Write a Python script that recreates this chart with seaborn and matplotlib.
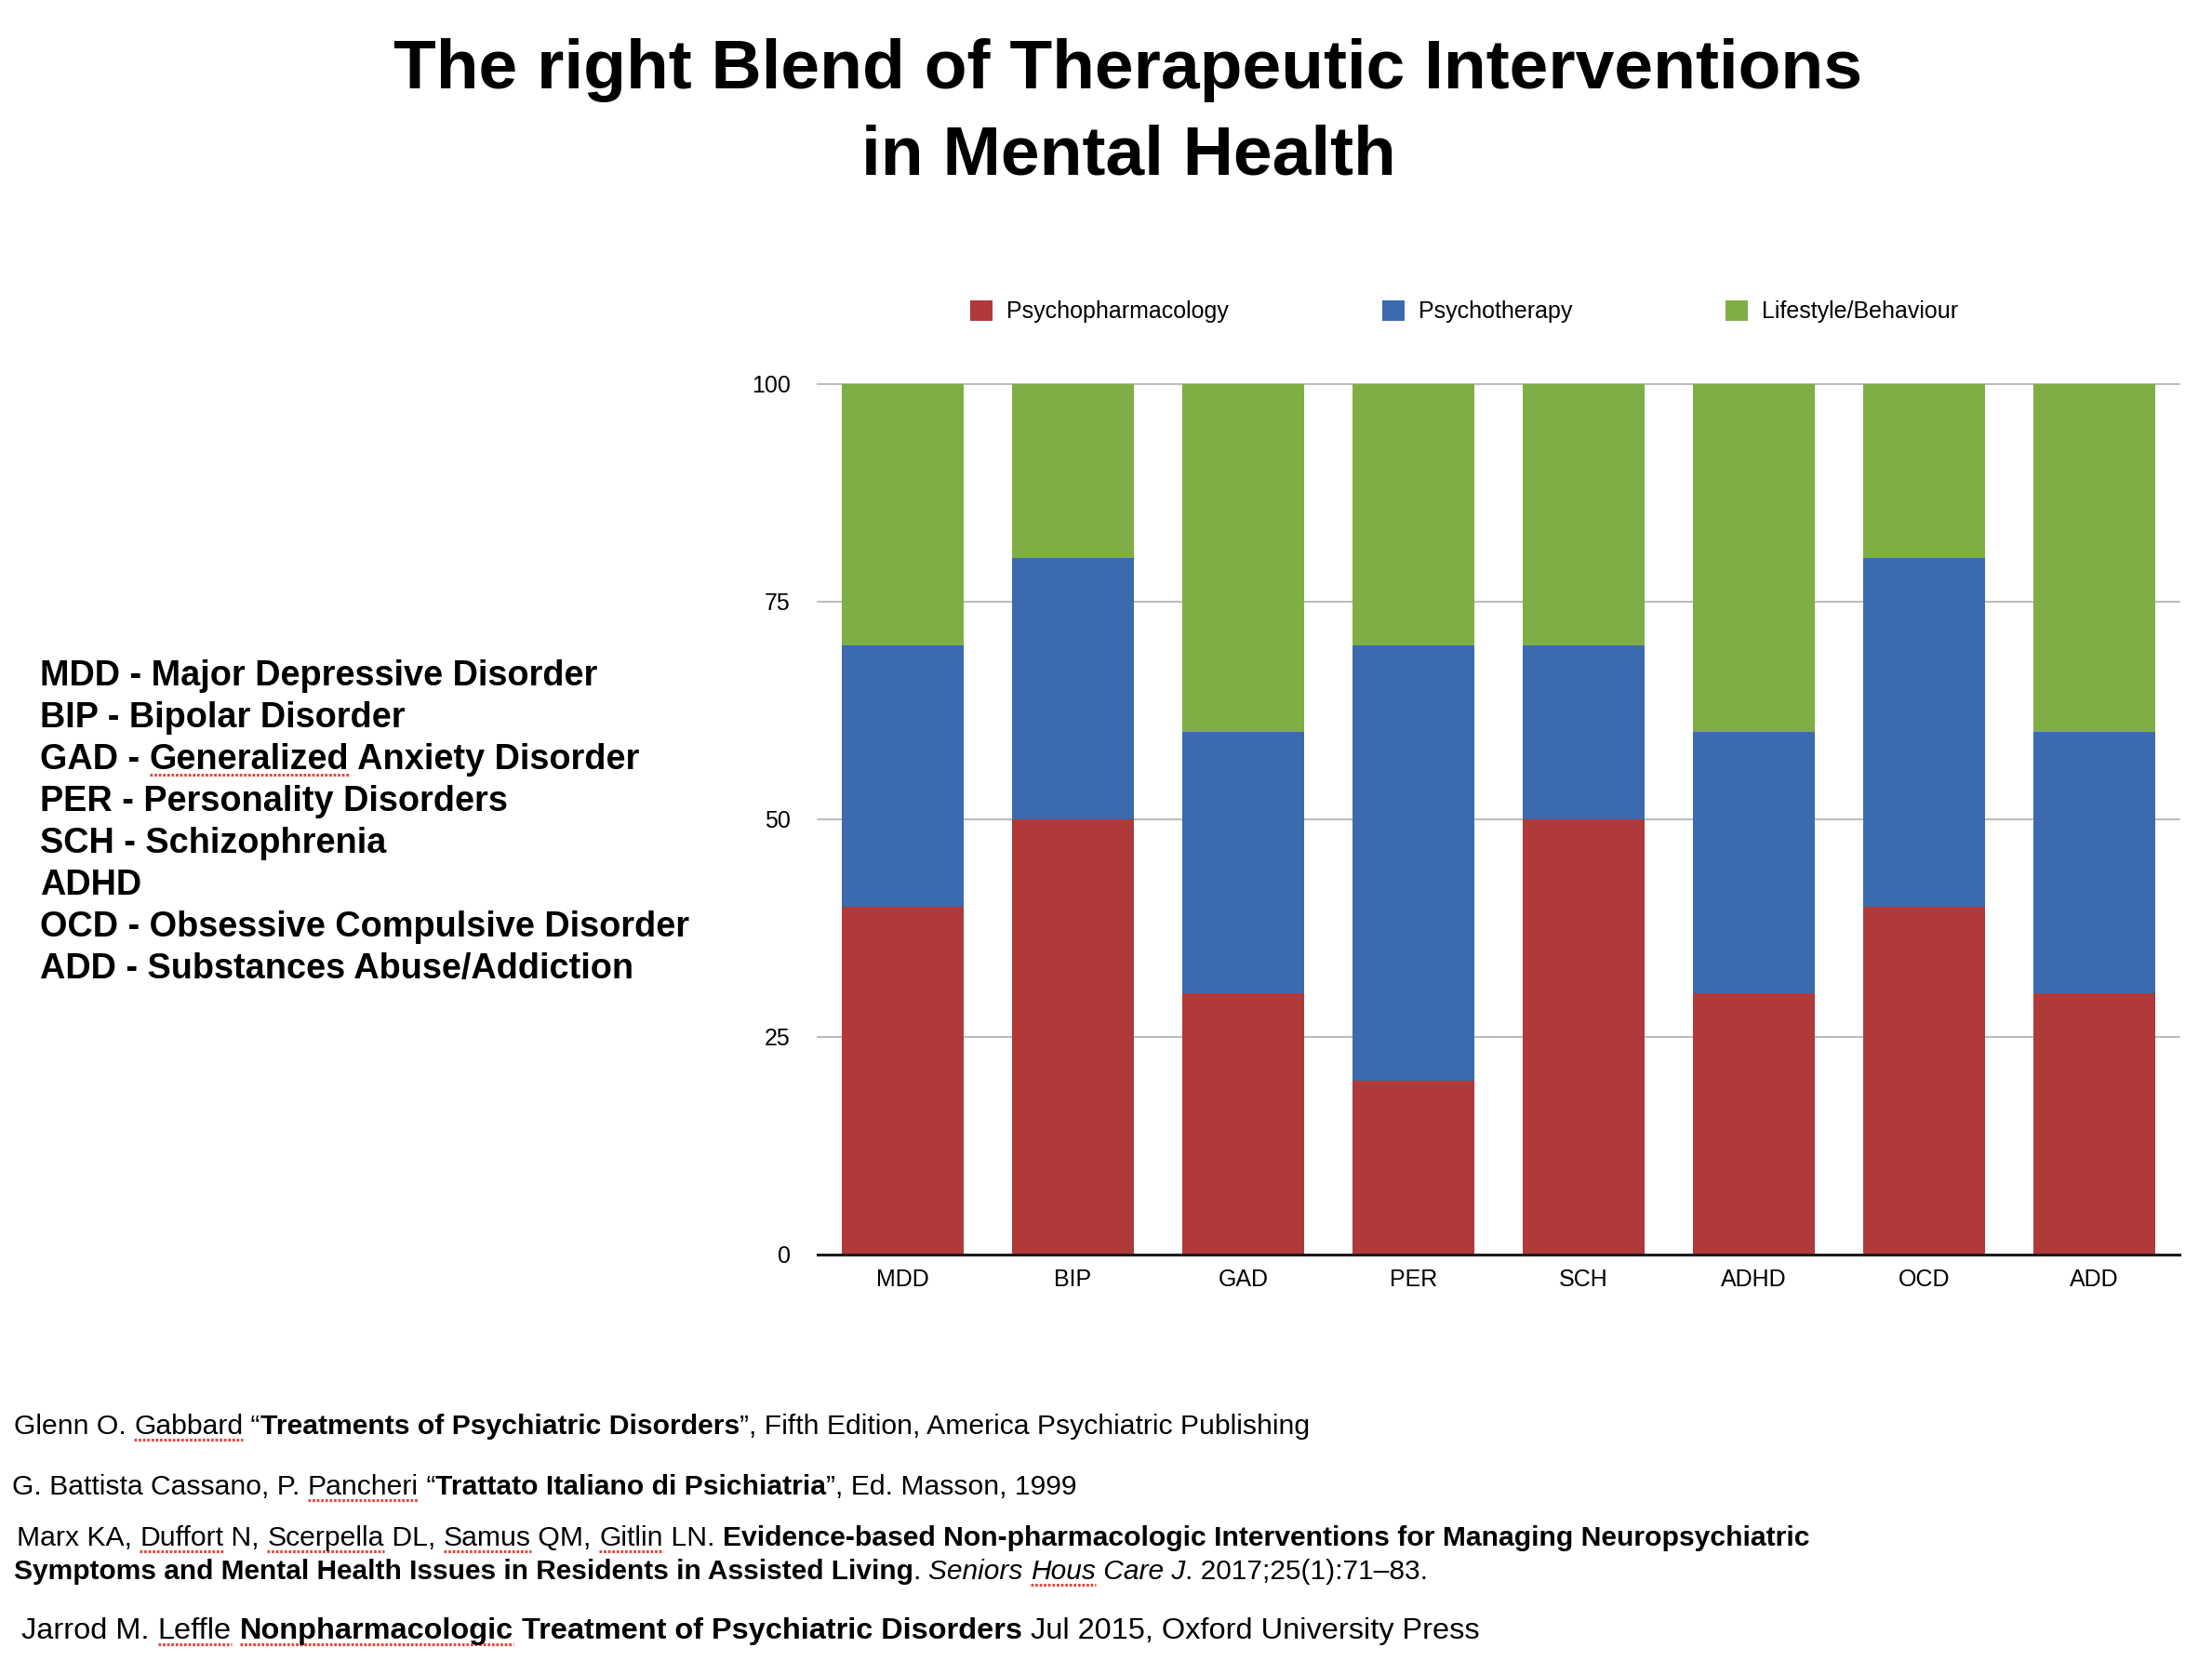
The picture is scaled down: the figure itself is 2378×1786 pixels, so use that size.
import matplotlib
matplotlib.use("Agg")
import matplotlib.pyplot as plt
from matplotlib.font_manager import FontProperties
from matplotlib.lines import Line2D
from matplotlib.patches import Patch
import pandas as pd
import seaborn as sns

# ------------------------------------------------------------
# data
# ------------------------------------------------------------
categories = ["MDD", "BIP", "GAD", "PER", "SCH", "ADHD", "OCD", "ADD"]
psychopharmacology = [40, 50, 30, 20, 50, 30, 40, 30]
psychotherapy = [30, 30, 30, 50, 20, 30, 40, 30]
lifestyle = [30, 20, 40, 30, 30, 40, 20, 40]
series_names = ["Psychopharmacology", "Psychotherapy", "Lifestyle/Behaviour"]
series_colors = ["#B03A3A", "#3B6AAE", "#7FAE46"]
y_ticks = [0, 25, 50, 75, 100]

title_lines = ["The right Blend of Therapeutic Interventions", "in Mental Health"]

# (text, weight, style, spell-check underline)
abbrev_lines = [
    [("MDD - Major Depressive Disorder", "bold", "normal", False)],
    [("BIP - Bipolar Disorder", "bold", "normal", False)],
    [("GAD - ", "bold", "normal", False), ("Generalized", "bold", "normal", True),
     (" Anxiety Disorder", "bold", "normal", False)],
    [("PER - Personality Disorders", "bold", "normal", False)],
    [("SCH - Schizophrenia", "bold", "normal", False)],
    [("ADHD", "bold", "normal", False)],
    [("OCD - Obsessive Compulsive Disorder", "bold", "normal", False)],
    [("ADD - Substances Abuse/Addiction", "bold", "normal", False)],
]

reference_lines = [
    [("Glenn O. ", "normal", "normal", False), ("Gabbard", "normal", "normal", True),
     (" \u201c", "normal", "normal", False),
     ("Treatments of Psychiatric Disorders", "bold", "normal", False),
     ("\u201d, Fifth Edition, America Psychiatric Publishing", "normal", "normal", False)],
    [("G. Battista Cassano, P. ", "normal", "normal", False), ("Pancheri", "normal", "normal", True),
     (" \u201c", "normal", "normal", False),
     ("Trattato Italiano di Psichiatria", "bold", "normal", False),
     ("\u201d, Ed. Masson, 1999", "normal", "normal", False)],
    [("Marx KA, ", "normal", "normal", False), ("Duffort", "normal", "normal", True),
     (" N, ", "normal", "normal", False), ("Scerpella", "normal", "normal", True),
     (" DL, ", "normal", "normal", False), ("Samus", "normal", "normal", True),
     (" QM, ", "normal", "normal", False), ("Gitlin", "normal", "normal", True),
     (" LN. ", "normal", "normal", False),
     ("Evidence-based Non-pharmacologic Interventions for Managing Neuropsychiatric",
      "bold", "normal", False)],
    [("Symptoms and Mental Health Issues in Residents in Assisted Living", "bold", "normal", False),
     (". ", "normal", "normal", False), ("Seniors ", "normal", "italic", False),
     ("Hous", "normal", "italic", True), (" Care J", "normal", "italic", False),
     (". 2017;25(1):71\u201383.", "normal", "normal", False)],
    [("Jarrod M. ", "normal", "normal", False), ("Leffle", "normal", "normal", True),
     (" ", "normal", "normal", False), ("Nonpharmacologic", "bold", "normal", True),
     (" Treatment of Psychiatric Disorders", "bold", "normal", False),
     (" Jul 2015, Oxford University Press", "normal", "normal", False)],
]

# ------------------------------------------------------------
# figure
# ------------------------------------------------------------
FONT = "Liberation Sans"
sns.set_style("white")
plt.rcParams["font.family"] = [FONT, "DejaVu Sans"]
plt.rcParams["text.color"] = "black"
plt.rcParams["xtick.color"] = "black"
plt.rcParams["ytick.color"] = "black"

W, H = 2378, 1786
fig = plt.figure(figsize=(W / 100, H / 100), dpi=100)


def fx(x):
    return x / W


def fy(y):
    return 1 - y / H


ax = fig.add_axes([fx(879), fy(1349), (2343 - 879) / W, (1349 - 413) / H])

df = pd.DataFrame({
    "category": categories,
    "red": psychopharmacology,
    "blue": psychotherapy,
    "green": lifestyle,
})
df["blue_top"] = df["red"] + df["blue"]
df["green_top"] = df["blue_top"] + df["green"]

# grid lines behind the bars
for t in y_ticks[1:]:
    ax.axhline(t, color="#BDBDBD", lw=1.5, zorder=0, clip_on=False)

# stacked bars: draw the tallest layer first
for col, color in zip(["green_top", "blue_top", "red"], series_colors[::-1]):
    sns.barplot(data=df, x="category", y=col, color=color, saturation=1,
                width=0.716, linewidth=0, edgecolor="none", ax=ax, zorder=2)

ax.set_xlim(-0.5, len(categories) - 0.5)
ax.set_ylim(0, 100)
ax.set_yticks(y_ticks)
ax.set_yticklabels([str(t) for t in y_ticks])
ax.set_xlabel("")
ax.set_ylabel("")
ax.tick_params(axis="both", length=0, labelsize=18, colors="black")
ax.tick_params(axis="y", pad=21)
ax.tick_params(axis="x", pad=11)
for s in ["left", "right", "top"]:
    ax.spines[s].set_visible(False)
ax.spines["bottom"].set_color("#1a1a1a")
ax.spines["bottom"].set_linewidth(2.2)
ax.spines["bottom"].set_zorder(3)
ax.grid(False)

handles = [Patch(facecolor=c, edgecolor="none", label=n)
           for n, c in zip(series_names, series_colors)]
fig.legend(handles=handles, loc="center left", ncol=3, frameon=False,
           bbox_to_anchor=(fx(1043), fy(335)), bbox_transform=fig.transFigure,
           fontsize=18, handlelength=0.96, handleheight=0.96,
           handletextpad=0.6, columnspacing=6.6, borderpad=0, borderaxespad=0,
           labelcolor="black")

# ------------------------------------------------------------
# texts
# ------------------------------------------------------------
fig.text(fx(1213), fy(95), title_lines[0], fontsize=54, fontweight="bold",
         ha="center", va="baseline", color="black")
fig.text(fx(1213), fy(187), title_lines[1], fontsize=54, fontweight="bold",
         ha="center", va="baseline", color="black")

renderer = fig.canvas.get_renderer()


def text_width(s, fp):
    w1 = renderer.get_text_width_height_descent(s + "|", fp, False)[0]
    w2 = renderer.get_text_width_height_descent("|", fp, False)[0]
    return w1 - w2


def draw_runs(x, y, runs, size):
    for txt, weight, style, marked in runs:
        fp = FontProperties(family=FONT, size=size, weight=weight, style=style)
        w = text_width(txt, fp)
        fig.text(fx(x), fy(y), txt, fontproperties=fp, ha="left", va="baseline",
                 color="black")
        if marked:
            fig.add_artist(Line2D([fx(x), fx(x + w)], [fy(y + 6), fy(y + 6)],
                                  color="#E8453C", lw=2.2,
                                  linestyle=(0, (0.9, 0.6))))
        x += w


for i, runs in enumerate(abbrev_lines):
    draw_runs(43, 737 + 45 * i, runs, 27.3)

ref_pos = [(15, 1542), (13, 1607), (18, 1662), (15, 1698), (23, 1762)]
ref_sizes = [21.7, 21.7, 21.7, 21.5, 23.4]
for (x, y), size, runs in zip(ref_pos, ref_sizes, reference_lines):
    draw_runs(x, y, runs, size)

fig.savefig("out.png", dpi=100)
